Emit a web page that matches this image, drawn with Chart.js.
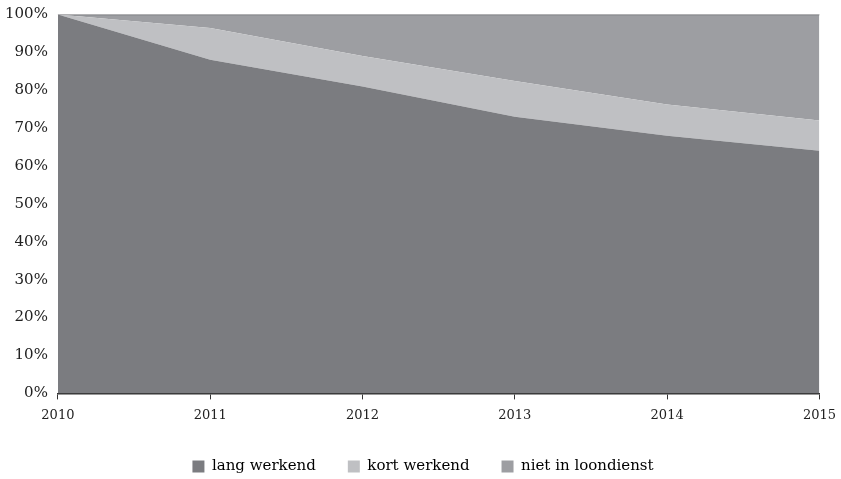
<!DOCTYPE html>
<html>
<head>
<meta charset="utf-8">
<script src="https://cdn.jsdelivr.net/npm/chart.js@4/dist/chart.umd.min.js"></script>
<style>
  html, body { margin: 0; padding: 0; background: #fff; }
  #wrap { width: 841px; height: 479px; }
</style>
</head>
<body>
<div id="wrap"><canvas id="chart"></canvas></div>
<script>
// Jaren en aandelen (%) per groep
const years = ['2010', '2011', '2012', '2013', '2014', '2015'];
const langWerkend = [100, 88, 81, 73, 68, 64];
const kortWerkend = [0, 8.4, 8, 9.4, 8.2, 8];
const nietInLoondienst = [0, 3.6, 11, 17.6, 23.8, 28];
const yTicks = [0, 10, 20, 30, 40, 50, 60, 70, 80, 90, 100];

const serif = "'DejaVu Serif', 'Liberation Serif', serif";

// legenda iets lager zetten
const legendFitTweak = {
  id: 'legendFitTweak',
  beforeInit(chart) {
    const orig = chart.legend.fit;
    chart.legend.fit = function () {
      orig.call(this);
      this.height -= 5;
    };
  }
};

const ctx = document.getElementById('chart').getContext('2d');
new Chart(ctx, {
  type: 'line',
  data: {
    labels: years,
    datasets: [
      {
        label: 'lang werkend',
        data: langWerkend,
        backgroundColor: '#7b7c80',
        borderColor: '#7b7c80',
        borderWidth: 0,
        fill: 'origin'
      },
      {
        label: 'kort werkend',
        data: kortWerkend,
        backgroundColor: '#bfc0c3',
        borderColor: '#bfc0c3',
        borderWidth: 0,
        fill: '-1'
      },
      {
        label: 'niet in loondienst',
        data: nietInLoondienst,
        backgroundColor: '#9d9ea2',
        borderColor: '#6e6f73',
        borderWidth: 1.5,
        fill: '-1'
      }
    ]
  },
  options: {
    responsive: true,
    maintainAspectRatio: false,
    animation: false,
    layout: { padding: { left: 5, right: 0, top: 0, bottom: 0 } },
    elements: {
      point: { radius: 0, hoverRadius: 0 },
      line: { tension: 0 }
    },
    scales: {
      x: {
        offset: false,
        afterFit: (scale) => {
          scale.height -= 4;
          scale.paddingRight -= 3;
        },
        grid: {
          display: true,
          drawOnChartArea: false,
          drawTicks: true,
          tickLength: 6,
          color: '#333'
        },
        border: { display: true, color: '#333', width: 1.5 },
        ticks: {
          color: '#222',
          font: { family: serif, size: 13 },
          padding: 8,
          maxRotation: 0
        }
      },
      y: {
        stacked: true,
        min: 0,
        max: 100,
        afterBuildTicks: (axis) => { axis.ticks = yTicks.map(v => ({ value: v })); },
        afterFit: (scale) => {
          scale.width -= 10;
          scale.paddingTop -= 2;
        },
        grid: { display: false, drawTicks: false },
        border: { display: false },
        ticks: {
          color: '#222',
          font: { family: serif, size: 15, lineHeight: 0.85 },
          padding: 10,
          callback: (v) => v + '%'
        }
      }
    },
    plugins: {
      legend: {
        position: 'bottom',
        labels: {
          color: '#222',
          font: { family: serif, size: 15 },
          boxWidth: 12,
          boxHeight: 12,
          padding: 32,
          generateLabels: (chart) => chart.data.datasets.map((ds, i) => ({
            text: ds.label,
            fillStyle: ds.backgroundColor,
            strokeStyle: ds.backgroundColor,
            lineWidth: 0,
            datasetIndex: i
          }))
        }
      },
      tooltip: { enabled: false }
    }
  },
  plugins: [legendFitTweak]
});
</script>
</body>
</html>
